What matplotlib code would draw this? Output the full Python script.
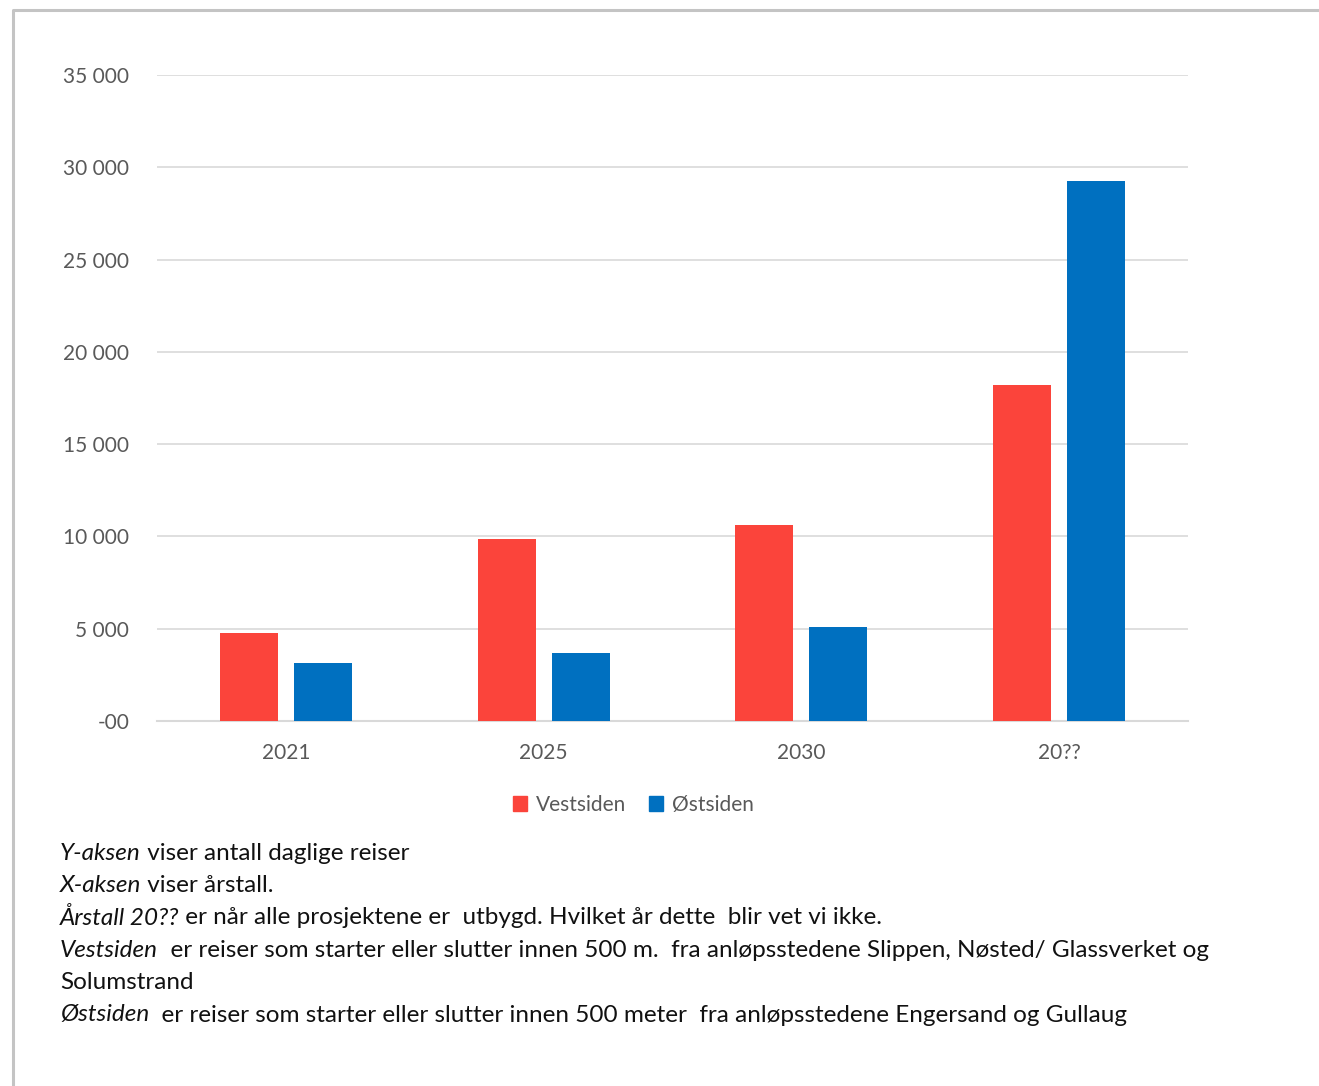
import numpy as np
import matplotlib.pyplot as plt
from matplotlib.lines import Line2D
from matplotlib.patches import Patch

plt.rcParams["font.family"] = ["Lato", "DejaVu Sans"]

# Daily trips per year and side of the fjord
years = ["2021", "2025", "2030", "20??"]
vestsiden = [4770, 9860, 10620, 18200]
ostsiden = [3140, 3680, 5090, 29260]

y_ticks = [0, 5000, 10000, 15000, 20000, 25000, 30000, 35000]
y_labels = ["-00", "5 000", "10 000", "15 000", "20 000", "25 000", "30 000", "35 000"]

notes = [
    ("Y-aksen", " viser antall daglige reiser"),
    ("X-aksen", " viser årstall."),
    ("Årstall 20??", " er når alle prosjektene er  utbygd. Hvilket år dette  blir vet vi ikke."),
    ("Vestsiden", "  er reiser som starter eller slutter innen 500 m.  fra anløpsstedene Slippen, Nøsted/ Glassverket og"),
    ("", "Solumstrand"),
    ("Østsiden", "  er reiser som starter eller slutter innen 500 meter  fra anløpsstedene Engersand og Gullaug"),
]

red = "#FB443B"
blue = "#0070C0"
grey_text = "#595959"

W, H = 1319, 1086
fig = plt.figure(figsize=(W / 100, H / 100), dpi=100)
ax = fig.add_axes([157 / W, 1 - 721 / H, (1188 - 157) / W, (721 - 75) / H])

x = np.arange(len(years))
bw = 0.225
off = 0.1436
ax.bar(x - off, vestsiden, bw, color=red, zorder=3)
ax.bar(x + off, ostsiden, bw, color=blue, zorder=3)

ax.set_xlim(-0.5, len(years) - 0.5)
ax.set_ylim(0, 35000)
ax.set_yticks(y_ticks)
ax.set_yticklabels(y_labels)
ax.set_xticks(x)
ax.set_xticklabels(years)
ax.tick_params(axis="both", length=0, labelsize=15, labelcolor=grey_text)
ax.tick_params(axis="y", pad=20)
ax.tick_params(axis="x", pad=16)
ax.grid(axis="y", color="#D9D9D9", linewidth=1.2, zorder=0)
for s in ["left", "right", "top"]:
    ax.spines[s].set_visible(False)
ax.spines["bottom"].set_color("#D9D9D9")
ax.spines["bottom"].set_linewidth(1.5)

handles = [Patch(color=red, label="Vestsiden"), Patch(color=blue, label="Østsiden")]
fig.legend(handles=handles, loc="center", bbox_to_anchor=(633 / W, 1 - 805 / H),
           ncol=2, frameon=False, fontsize=15, labelcolor=grey_text,
           handlelength=0.7, handleheight=0.7, handletextpad=0.4, columnspacing=1.1)

# Explanation lines below the chart: italic keyword followed by plain text
renderer = fig.canvas.get_renderer()
y0 = 853
for i, (key, rest) in enumerate(notes):
    yy = 1 - (y0 + i * 32.4) / H
    x_next = 60 / W
    if key:
        t = fig.text(x_next, yy, key, fontsize=17.5, style="italic", va="center", color="#111111")
        bb = t.get_window_extent(renderer)
        x_next = bb.x1 / W
    fig.text(x_next, yy, rest, fontsize=17.5, va="center", color="#111111")

# Frame lines along the left and top edges
fig.add_artist(Line2D([13 / W, 13 / W, 1.0], [0.0, 1 - 10 / H, 1 - 10 / H],
                      transform=fig.transFigure, color="#C4C4C4", linewidth=2.2))

fig.savefig("out.png", dpi=100)
